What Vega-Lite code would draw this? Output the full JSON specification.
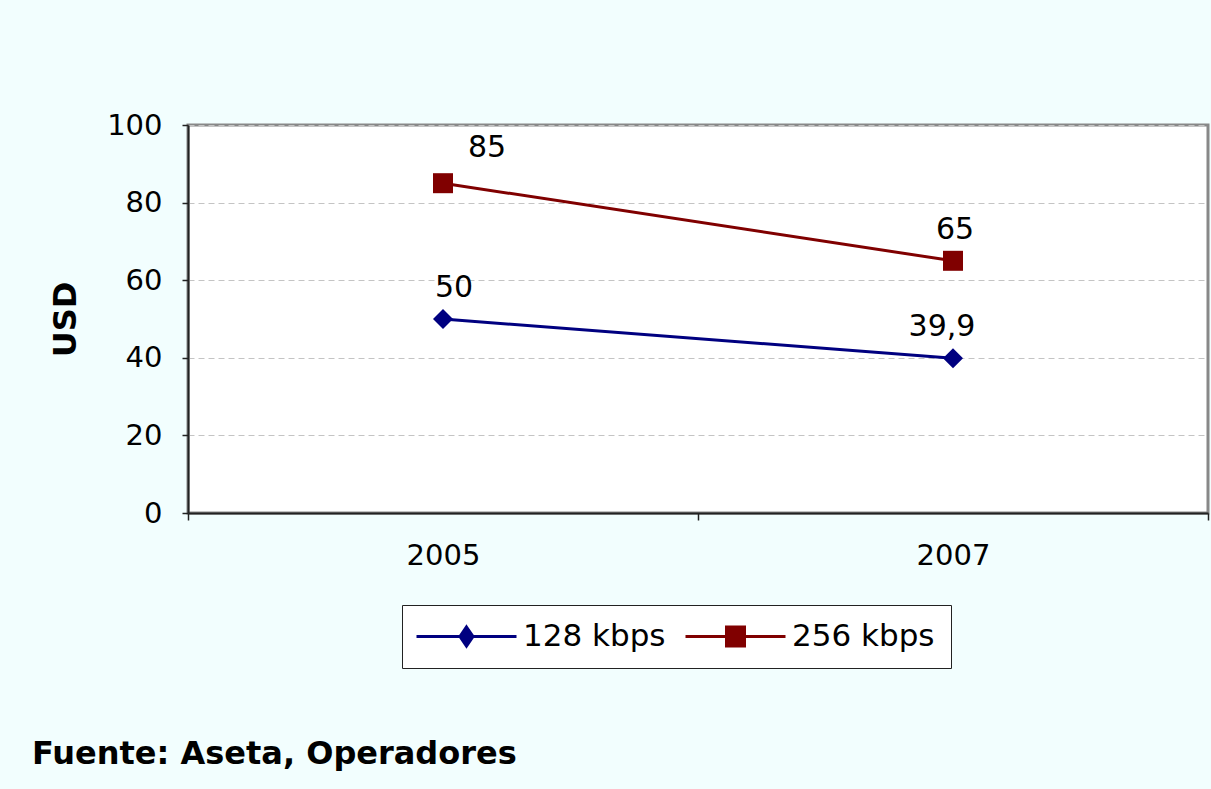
{
  "$schema": "https://vega.github.io/schema/vega-lite/v6.json",
  "width": 1020,
  "height": 388,
  "autosize": {"type": "none"},
  "padding": {"left": 188, "top": 125, "right": 3, "bottom": 276},
  "background": "#f2fefe",
  "config": {
    "font": "DejaVu Sans",
    "view": {"fill": "white", "stroke": "#888888", "strokeWidth": 3},
    "locale": {"number": {"decimal": ",", "thousands": ".", "grouping": [3], "currency": ["", " €"]}}
  },
  "title": {
    "text": "Fuente: Aseta, Operadores",
    "orient": "bottom",
    "anchor": "start",
    "frame": "group",
    "font": "DejaVu Sans",
    "fontSize": 32,
    "fontWeight": "bold",
    "color": "black",
    "offset": 70,
    "dx": -156
  },
  "data": {
    "values": [
      {"year": "2005", "serie": "128 kbps", "usd": 50},
      {"year": "2007", "serie": "128 kbps", "usd": 39.9},
      {"year": "2005", "serie": "256 kbps", "usd": 85},
      {"year": "2007", "serie": "256 kbps", "usd": 65}
    ]
  },
  "encoding": {
    "x": {
      "field": "year",
      "type": "ordinal",
      "scale": {"paddingInner": 0, "paddingOuter": 0},
      "axis": {
        "title": null,
        "labelAngle": 0,
        "tickBand": "extent",
        "domainColor": "#222222",
        "domainWidth": 2,
        "tickColor": "#222222",
        "tickWidth": 1.5,
        "tickSize": 7,
        "labelFont": "DejaVu Sans",
        "labelFontSize": 29,
        "labelColor": "black",
        "labelPadding": 21
      }
    },
    "y": {
      "field": "usd",
      "type": "quantitative",
      "scale": {"domain": [0, 100]},
      "axis": {
        "title": "USD",
        "titleFont": "DejaVu Sans",
        "titleFontSize": 32,
        "titleFontWeight": "bold",
        "titleColor": "black",
        "titlePadding": 24,
        "values": [0, 20, 40, 60, 80, 100],
        "grid": true,
        "gridDash": [6, 4],
        "gridColor": "#c4c4c4",
        "gridWidth": 1,
        "domainColor": "#222222",
        "domainWidth": 2,
        "tickColor": "#222222",
        "tickWidth": 1.5,
        "tickSize": 6,
        "labelFont": "DejaVu Sans",
        "labelFontSize": 29,
        "labelColor": "black",
        "labelPadding": 20
      }
    },
    "color": {
      "field": "serie",
      "type": "nominal",
      "scale": {"domain": ["128 kbps", "256 kbps"], "range": ["#000080", "#800000"]},
      "legend": {
        "orient": "none",
        "legendX": 214,
        "legendY": 480,
        "direction": "horizontal",
        "title": null,
        "strokeColor": "#222222",
        "fillColor": "white",
        "padding": 16,
        "labelFont": "DejaVu Sans",
        "labelFontSize": 31,
        "labelColor": "black",
        "symbolSize": 400,
        "symbolStrokeWidth": 3,
        "symbolOpacity": 1,
        "symbolOffset": 33,
        "labelOffset": 41,
        "columnPadding": 13
      }
    }
  },
  "layer": [
    {
      "mark": {"type": "point", "filled": true, "opacity": 0, "size": 400},
      "encoding": {
        "shape": {
          "field": "serie",
          "type": "nominal",
          "scale": {
            "domain": ["128 kbps", "256 kbps"],
            "range": [
              "M-5,0L5,0M0,-0.95L0.65,0L0,0.95L-0.65,0ZM-0.14,-0.75L0.14,-0.75M-0.34,-0.45L0.34,-0.45M-0.55,-0.15L0.55,-0.15M-0.55,0.15L0.55,0.15M-0.34,0.45L0.34,0.45M-0.14,0.75L0.14,0.75",
              "M-5,0L5,0M-0.9,-0.95L0.9,-0.95L0.9,0.95L-0.9,0.95ZM-0.9,-0.65L0.9,-0.65M-0.9,-0.35L0.9,-0.35M-0.9,-0.05L0.9,-0.05M-0.9,0.25L0.9,0.25M-0.9,0.55L0.9,0.55M-0.9,0.8L0.9,0.8"
            ]
          }
        }
      }
    },
    {"mark": {"type": "line", "strokeWidth": 3}},
    {
      "mark": {"type": "point", "filled": true, "opacity": 1, "size": 400},
      "encoding": {
        "shape": {
          "condition": {"test": "datum.serie == '128 kbps'", "value": "diamond"},
          "value": "square"
        }
      }
    },
    {
      "mark": {
        "type": "text",
        "fontSize": 30,
        "font": "DejaVu Sans",
        "baseline": "middle",
        "align": "center",
        "dx": {"expr": "datum.serie == '256 kbps' ? (datum.year == '2005' ? 44 : 2) : (datum.year == '2005' ? 11 : -11)"},
        "dy": {"expr": "datum.serie == '256 kbps' && datum.year == '2005' ? -35 : -31"}
      },
      "encoding": {
        "text": {"field": "usd", "type": "quantitative", "format": "~g"},
        "color": {"value": "black"}
      }
    }
  ]
}
